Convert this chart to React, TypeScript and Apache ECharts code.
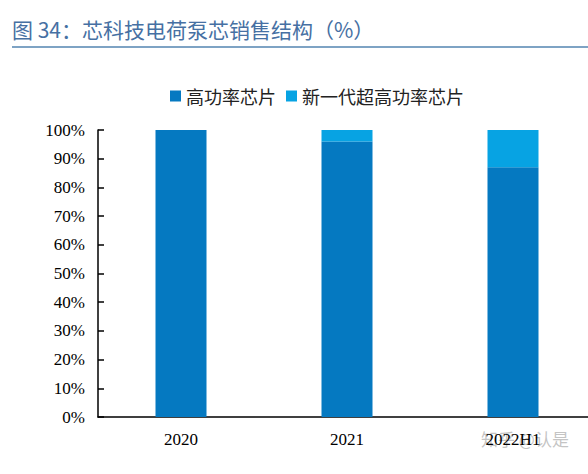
import React, { useEffect, useRef } from "react";
import * as echarts from "echarts";

const categories = ["2020", "2021", "2022H1"];
const highPower = [100, 96, 87];
const newGenHighPower = [0, 4, 13];
const seriesNames = ["高功率芯片", "新一代超高功率芯片"];
const yTicks = [0, 10, 20, 30, 40, 50, 60, 70, 80, 90, 100];
const titleText = "图 34：芯科技电荷泵芯销售结构（%）";
const watermark = "知乎 @认是";

export default function App() {
  const ref = useRef<HTMLDivElement>(null);
  useEffect(() => {
    if (!ref.current) return;
    const chart = echarts.init(ref.current, undefined, { renderer: "svg" });
    const serif = "'Liberation Serif', 'Noto Sans CJK SC', serif";
    chart.setOption({
      animation: false,
      backgroundColor: "#ffffff",
      graphic: [
        {
          type: "text",
          left: 12,
          top: 18,
          style: {
            text: titleText,
            fill: "#4670a3",
            font: "21px 'Noto Sans CJK SC', sans-serif",
          },
        },
        {
          type: "line",
          shape: { x1: 12, y1: 47, x2: 600, y2: 47 },
          style: { stroke: "#7ea3c4", lineWidth: 2 },
        },
        {
          type: "text",
          left: 481,
          top: 430,
          style: {
            text: watermark,
            fill: "rgba(170,170,170,0.7)",
            font: "17px 'Noto Sans CJK SC', sans-serif",
          },
        },
      ],
      legend: {
        top: 82,
        left: 170 - 5,
        itemWidth: 11,
        itemHeight: 11,
        itemGap: 10,
        icon: "rect",
        textStyle: {
          fontFamily: "'Noto Sans CJK SC', sans-serif",
          fontSize: 18,
          color: "#222",
        },
        data: seriesNames,
      },
      grid: { left: 98, top: 130, width: 498, height: 287 },
      xAxis: {
        type: "category",
        data: categories,
        axisLine: { lineStyle: { color: "#000", width: 1.5 } },
        axisTick: { show: false },
        axisLabel: {
          fontFamily: serif,
          fontSize: 17,
          color: "#000",
          margin: 14,
        },
      },
      yAxis: {
        type: "value",
        min: 0,
        max: 100,
        interval: 10,
        splitLine: { show: false },
        axisLine: { show: true, lineStyle: { color: "#000", width: 1.5 } },
        axisTick: { show: true, inside: true, length: 6, lineStyle: { color: "#000", width: 1.5 } },
        axisLabel: {
          fontFamily: serif,
          fontSize: 17,
          color: "#000",
          margin: 13,
          formatter: (v: number) => (yTicks.includes(v) ? v + "%" : ""),
        },
      },
      series: [
        {
          name: seriesNames[0],
          type: "bar",
          stack: "total",
          data: highPower,
          barWidth: 51,
          itemStyle: { color: "#0579c1" },
        },
        {
          name: seriesNames[1],
          type: "bar",
          stack: "total",
          data: newGenHighPower,
          barWidth: 51,
          itemStyle: { color: "#07a3e3" },
        },
      ],
    });
    return () => chart.dispose();
  }, []);
  return (
    <div
      style={{ position: "absolute", left: 0, top: 0, width: 588, height: 474, overflow: "hidden" }}
    >
      <div ref={ref} style={{ width: 600, height: 474 }} />
    </div>
  );
}
